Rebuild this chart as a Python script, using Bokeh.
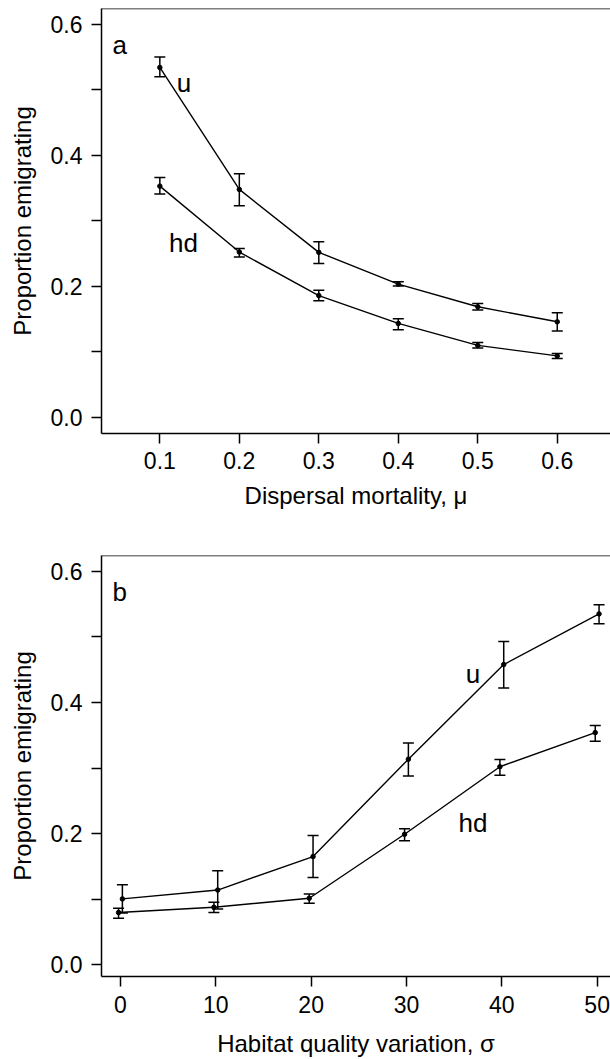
from bokeh.plotting import figure
from bokeh.models import (Whisker, TeeHead, ColumnDataSource, FixedTicker,
                          PrintfTickFormatter, Label, Span, Range1d)
from bokeh.layouts import column
from bokeh.embed import file_html
from bokeh.resources import INLINE

FONT = "Liberation Sans"

# ---- Panel a: dispersal mortality ----
mu = [0.1, 0.2, 0.3, 0.4, 0.5, 0.6]
u_mu = [0.534, 0.348, 0.252, 0.2035, 0.169, 0.146]
u_mu_lo = [0.520, 0.323, 0.235, 0.2005, 0.164, 0.132]
u_mu_hi = [0.550, 0.372, 0.268, 0.207, 0.174, 0.160]
hd_mu = [0.353, 0.2524, 0.186, 0.1435, 0.110, 0.094]
hd_mu_lo = [0.341, 0.245, 0.178, 0.134, 0.106, 0.090]
hd_mu_hi = [0.366, 0.258, 0.194, 0.1505, 0.1145, 0.0977]

# ---- Panel b: habitat quality variation ----
sigma_u = [0.2, 10.2, 20.2, 30.2, 40.2, 50.2]
sigma_hd = [-0.2, 9.8, 19.8, 29.8, 39.8, 49.8]
u_sig = [0.1005, 0.114, 0.165, 0.3135, 0.4577, 0.535]
u_sig_lo = [0.079, 0.085, 0.133, 0.288, 0.422, 0.520]
u_sig_hi = [0.122, 0.1435, 0.197, 0.338, 0.493, 0.549]
hd_sig = [0.0797, 0.0878, 0.1015, 0.199, 0.302, 0.354]
hd_sig_lo = [0.071, 0.0797, 0.094, 0.189, 0.289, 0.341]
hd_sig_hi = [0.0863, 0.0954, 0.108, 0.2075, 0.313, 0.365]

y_ticks = [0.0, 0.2, 0.4, 0.6]
y_minor = [0.1, 0.3, 0.5]
sigma_ticks = [0, 10, 20, 30, 40, 50]

y_label = "Proportion emigrating"
xa_label = "Dispersal mortality, \u03bc"
xb_label = "Habitat quality variation, \u03c3"


def series(p, x, y, lo, hi):
    src = ColumnDataSource(dict(x=x, y=y, lo=lo, hi=hi))
    p.line("x", "y", source=src, line_color="black", line_width=1.4)
    p.add_layout(Whisker(source=src, base="x", lower="lo", upper="hi",
                         line_color="black", line_width=1.5,
                         lower_head=TeeHead(size=11, line_color="black", line_width=1.5),
                         upper_head=TeeHead(size=11, line_color="black", line_width=1.5)))
    p.scatter("x", "y", source=src, size=4.5, color="black")


def make_fig(xr, yr, height, bt, bb, xticks, xfmt, xlabel, lstand, astand):
    p = figure(width=610, height=height, x_range=Range1d(*xr), y_range=Range1d(*yr),
               output_backend="svg", toolbar_location=None,
               min_border_left=101, min_border_right=0, min_border_top=bt,
               min_border_bottom=bb)
    p.outline_line_color = None
    p.grid.visible = False
    p.background_fill_color = "white"
    p.border_fill_color = "white"
    p.add_layout(Span(location=yr[1], dimension="width", line_color="black", line_width=1.5))

    for ax in (p.xaxis[0], p.yaxis[0]):
        ax.axis_line_color = "black"
        ax.axis_line_width = 1.5
        ax.major_tick_line_color = "black"
        ax.major_tick_line_width = 1.5
        ax.major_tick_out = 10
        ax.major_tick_in = 0
        ax.minor_tick_line_color = "black"
        ax.minor_tick_line_width = 1.5
        ax.minor_tick_out = 10
        ax.minor_tick_in = 0
        ax.major_label_text_font = FONT
        ax.major_label_text_font_size = "23px"
        ax.major_label_text_color = "black"
        ax.axis_label_text_font = FONT
        ax.axis_label_text_font_size = "24px"
        ax.axis_label_text_font_style = "normal"
        ax.axis_label_text_color = "black"

    p.xaxis.ticker = FixedTicker(ticks=xticks, minor_ticks=[])
    p.xaxis.formatter = PrintfTickFormatter(format=xfmt)
    p.xaxis.axis_label = xlabel
    p.xaxis.major_label_standoff = lstand
    p.xaxis.axis_label_standoff = astand

    p.yaxis.ticker = FixedTicker(ticks=y_ticks, minor_ticks=y_minor)
    p.yaxis.formatter = PrintfTickFormatter(format="%.1f")
    p.yaxis.axis_label = y_label
    p.yaxis.major_label_standoff = 9
    p.yaxis.axis_label_standoff = 12
    return p


pa = make_fig((0.0266, 0.667), (-0.0244, 0.624), 550, 8, 117, mu, "%.1f", xa_label, 8, 10)
series(pa, mu, u_mu, u_mu_lo, u_mu_hi)
series(pa, mu, hd_mu, hd_mu_lo, hd_mu_hi)
pa.add_layout(Label(x=0.0404, y=0.568, text="a", text_font=FONT, text_font_size="26px",
                    text_baseline="alphabetic", text_align="left", text_color="black"))
pa.add_layout(Label(x=0.1304, y=0.510, text="u", text_font=FONT, text_font_size="26px",
                    text_baseline="alphabetic", text_align="center", text_color="black"))
pa.add_layout(Label(x=0.1298, y=0.266, text="hd", text_font=FONT, text_font_size="26px",
                    text_baseline="alphabetic", text_align="center", text_color="black"))

pb = make_fig((-1.99, 51.4), (-0.0178, 0.624), 509, 5, 82, sigma_ticks, "%d", xb_label, 9, 14)
series(pb, sigma_u, u_sig, u_sig_lo, u_sig_hi)
series(pb, sigma_hd, hd_sig, hd_sig_lo, hd_sig_hi)
pb.add_layout(Label(x=-0.84, y=0.569, text="b", text_font=FONT, text_font_size="26px",
                    text_baseline="alphabetic", text_align="left", text_color="black"))
pb.add_layout(Label(x=36.98, y=0.444, text="u", text_font=FONT, text_font_size="26px",
                    text_baseline="alphabetic", text_align="center", text_color="black"))
pb.add_layout(Label(x=36.98, y=0.216, text="hd", text_font=FONT, text_font_size="26px",
                    text_baseline="alphabetic", text_align="center", text_color="black"))

layout = column(pa, pb, spacing=0)
open("out.html", "w").write(file_html(layout, INLINE))
